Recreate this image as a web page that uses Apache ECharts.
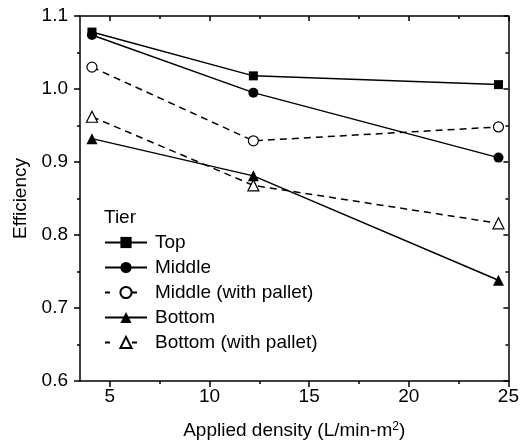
<!DOCTYPE html>
<html>
<head>
<meta charset="utf-8">
<script src="https://cdn.jsdelivr.net/npm/echarts@6/dist/echarts.min.js"></script>
<style>
  html, body { margin: 0; padding: 0; background: #fff; }
  #chart { width: 522px; height: 445px; }
</style>
</head>
<body>
<div id="chart"></div>
<script>
// applied density (L/min-m2)
const densities = [4.1, 12.2, 24.5]

const topTier = [1.078, 1.018, 1.006]
const middleTier = [1.074, 0.995, 0.906]
const middlePallet = [1.030, 0.929, 0.948]
const bottomTier = [0.932, 0.881, 0.738]
const bottomPallet = [0.962, 0.868, 0.816]

const xMajorTicks = [5, 10, 15, 20, 25]
const xMinorTicks = [7.5, 12.5, 17.5, 22.5]

const font = 'Liberation Sans, Arial, sans-serif'
const black = '#000'

const myChart = echarts.init(document.getElementById('chart'))

function pairs(values) {
  return densities.map((x, i) => [x, values[i]])
}

function makeSeries(name, values, symbol, size, hollow, dashed) {
  return {
    name: name,
    type: 'line',
    data: pairs(values),
    symbol: symbol,
    symbolSize: size,
    showSymbol: true,
    animation: false,
    lineStyle: {
      color: black,
      width: 1.5,
      type: dashed ? [7, 5] : 'solid'
    },
    itemStyle: {
      color: hollow ? '#fff' : black,
      borderColor: black,
      borderWidth: hollow ? 1.2 : 0
    }
  }
}

const axisLineStyle = { color: black, width: 1.5 }

function xAxisBase(position) {
  return {
    type: 'value',
    min: 3.5,
    max: 25,
    position: position,
    splitLine: { show: false },
    axisLine: { show: false },
    axisLabel: { show: false },
    axisTick: { show: false }
  }
}

// legend icons for the pallet series: "- o-"
const legendDash = { type: [5, 22] }

const option = {
  backgroundColor: '#fff',
  textStyle: { fontFamily: font, color: black },
  title: {
    text: 'Tier',
    left: 104,
    top: 208,
    padding: 0,
    textStyle: { fontFamily: font, fontSize: 19, fontWeight: 'normal', color: black }
  },
  legend: {
    orient: 'vertical',
    left: 104,
    top: 233,
    padding: 0,
    itemWidth: 42,
    itemHeight: 14,
    itemGap: 6,
    textStyle: {
      fontFamily: font,
      fontSize: 19,
      lineHeight: 19,
      color: black,
      padding: [0, 0, 0, 3]
    },
    data: [
      { name: 'Top' },
      { name: 'Middle' },
      { name: 'Middle (with pallet)', lineStyle: legendDash },
      { name: 'Bottom' },
      { name: 'Bottom (with pallet)', lineStyle: legendDash }
    ]
  },
  grid: {
    left: 80,
    right: 11,
    top: 16,
    bottom: 64
  },
  xAxis: [
    Object.assign(xAxisBase('bottom'), {
      axisLine: { show: true, lineStyle: axisLineStyle },
      axisTick: { show: true, customValues: xMajorTicks, length: 6, lineStyle: axisLineStyle },
      axisLabel: { show: true, customValues: xMajorTicks, fontSize: 19, margin: 6, color: black, fontFamily: font },
      name: 'Applied density (L/min-m{sup|2})',
      nameLocation: 'middle',
      nameGap: 40,
      nameTextStyle: {
        fontFamily: font,
        fontSize: 19,
        color: black,
        rich: {
          sup: { fontSize: 12, verticalAlign: 'top', fontFamily: font, color: black }
        }
      }
    }),
    Object.assign(xAxisBase('bottom'), {
      axisTick: { show: true, customValues: xMinorTicks, length: 3, lineStyle: axisLineStyle }
    }),
    Object.assign(xAxisBase('top'), {
      axisLine: { show: true, lineStyle: axisLineStyle },
      axisTick: { show: true, inside: true, customValues: xMajorTicks, length: 5, lineStyle: axisLineStyle }
    }),
    Object.assign(xAxisBase('top'), {
      axisTick: { show: true, inside: true, customValues: xMinorTicks, length: 3, lineStyle: axisLineStyle }
    })
  ],
  yAxis: [
    {
      type: 'value',
      position: 'left',
      min: 0.6,
      max: 1.1,
      interval: 0.1,
      splitLine: { show: false },
      axisLine: { show: true, lineStyle: axisLineStyle },
      axisTick: { show: true, length: 6, lineStyle: axisLineStyle },
      minorTick: { show: true, splitNumber: 2, length: 3, lineStyle: axisLineStyle },
      axisLabel: {
        fontSize: 19,
        margin: 12,
        color: black,
        fontFamily: font,
        formatter: (value) => value.toFixed(1)
      },
      name: 'Efficiency',
      nameLocation: 'middle',
      nameGap: 48,
      nameTextStyle: { fontFamily: font, fontSize: 19, color: black }
    },
    {
      type: 'value',
      position: 'right',
      min: 0.6,
      max: 1.1,
      interval: 0.1,
      splitLine: { show: false },
      axisLine: { show: true, lineStyle: axisLineStyle },
      axisTick: { show: true, inside: true, length: 5, lineStyle: axisLineStyle },
      minorTick: { show: true, splitNumber: 2, length: 3, lineStyle: axisLineStyle },
      axisLabel: { show: false }
    }
  ],
  series: [
    makeSeries('Top', topTier, 'rect', 9, false, false),
    makeSeries('Middle', middleTier, 'circle', 10, false, false),
    makeSeries('Middle (with pallet)', middlePallet, 'circle', 10, true, true),
    makeSeries('Bottom', bottomTier, 'triangle', 11, false, false),
    makeSeries('Bottom (with pallet)', bottomPallet, 'triangle', 11, true, true)
  ]
}

myChart.setOption(option)
</script>
</body>
</html>
